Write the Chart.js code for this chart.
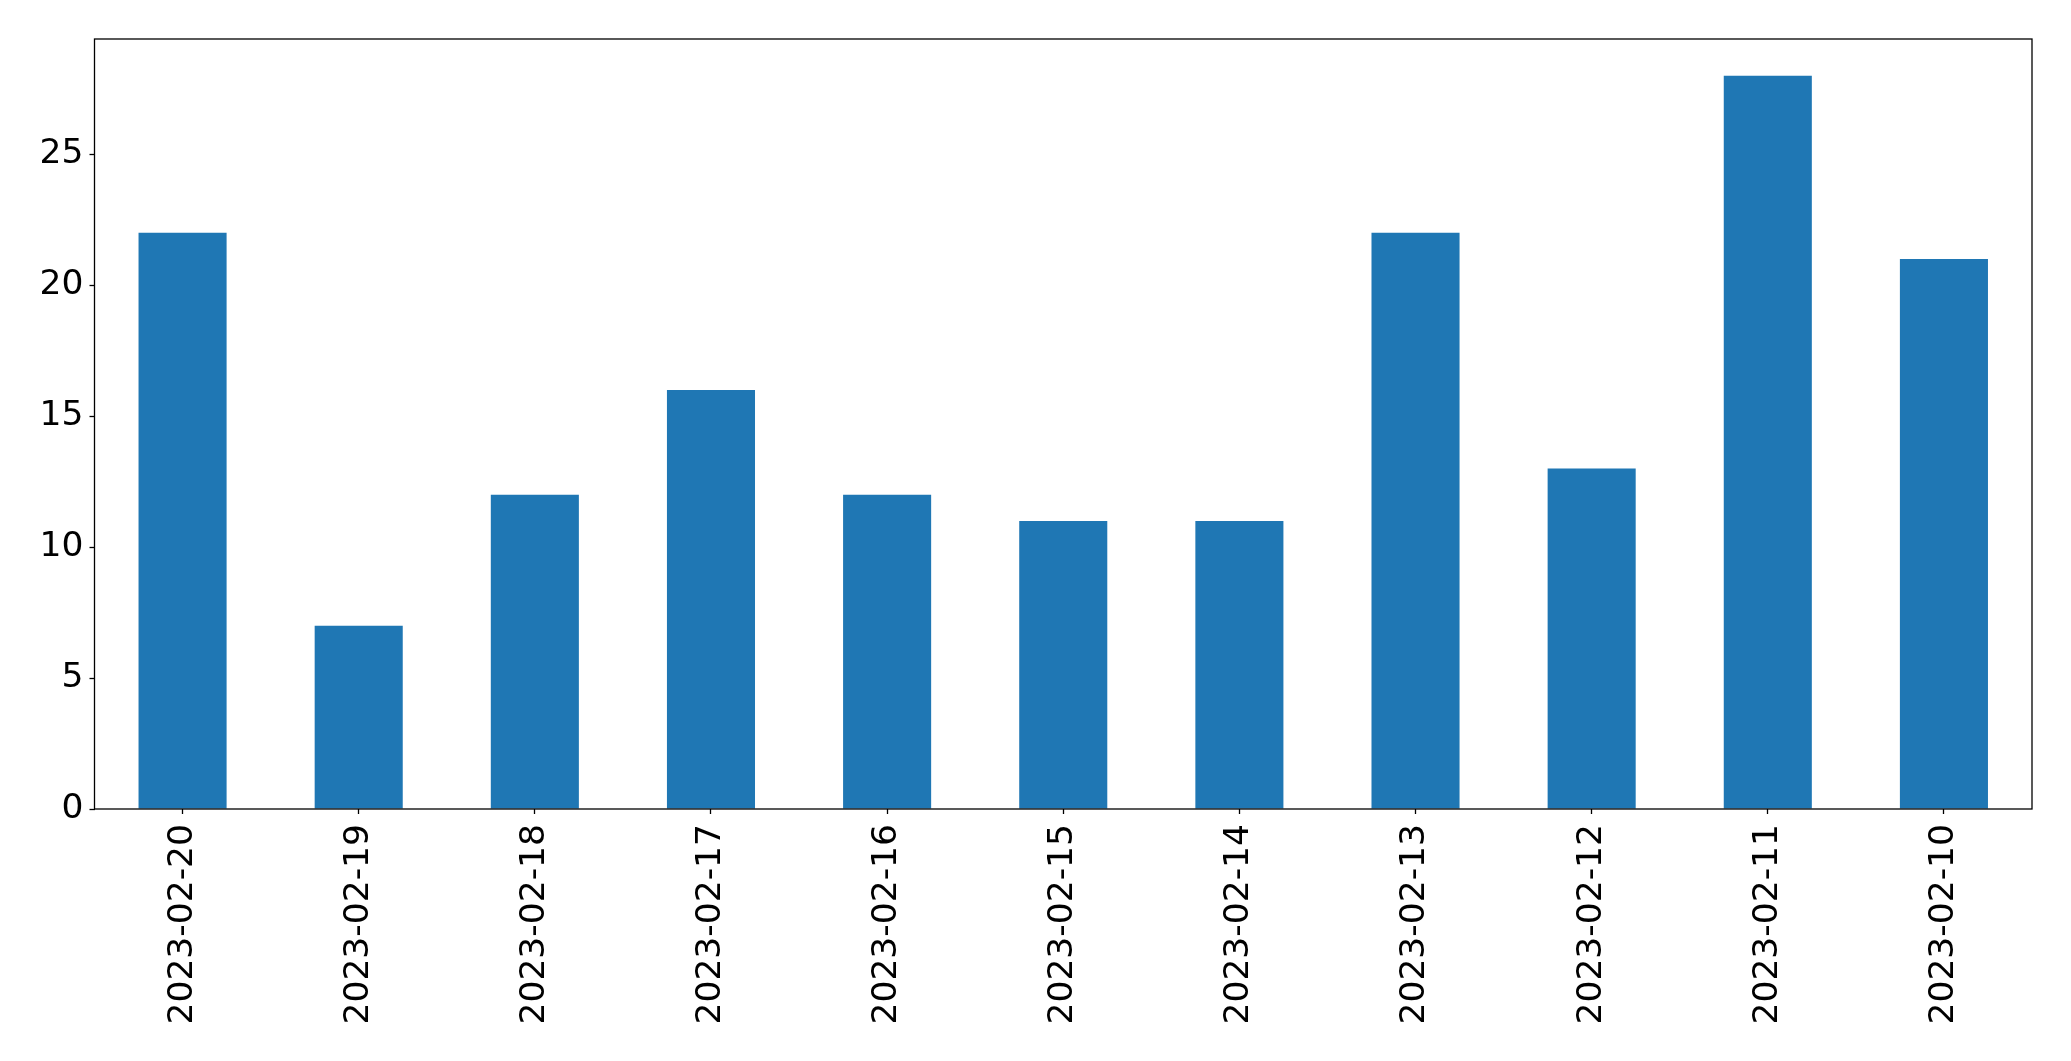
<!DOCTYPE html>
<html>
<head>
<meta charset="utf-8">
<script src="https://cdn.jsdelivr.net/npm/chart.js@4/dist/chart.umd.min.js"></script>
<style>
	body { margin: 0; background: #fff; }
	canvas { display: block; }
</style>
</head>
<body>
<canvas id="chart" width="2071" height="1061"></canvas>
<script>
// data
var categories	=	["2023-02-20", "2023-02-19", "2023-02-18", "2023-02-17", "2023-02-16", "2023-02-15", "2023-02-14", "2023-02-13", "2023-02-12", "2023-02-11", "2023-02-10"];
var values		=	[22, 7, 12, 16, 12, 11, 11, 22, 13, 28, 21];
var yTicks		=	[0, 5, 10, 15, 20, 25];

/**
 * Draws the full box round the plot area
 */
var frame = {
	id: "frame",
	afterDraw: function (chart) {
		var a = chart.chartArea;
		var ctx = chart.ctx;
		ctx.save();
		ctx.strokeStyle = "#000";
		ctx.lineWidth = 1.3;
		ctx.strokeRect(a.left, a.top, a.right - a.left, a.bottom - a.top);
		ctx.restore();
	}
};

Chart.defaults.font.family = "'DejaVu Sans', sans-serif";
Chart.defaults.color = "#000";

new Chart(document.getElementById("chart"), {
	type: "bar",
	data: {
		labels: categories,
		datasets: [{
			data: values,
			backgroundColor: "#1f77b4",
			categoryPercentage: 1,
			barPercentage: 0.5
		}]
	},
	options: {
		responsive: false,
		animation: false,
		layout: { padding: { left: 0, top: 39, right: 39, bottom: 0 } },
		plugins: { legend: { display: false }, tooltip: { enabled: false } },
		scales: {
			x: {
				offset: true,
				grid: { offset: false, drawOnChartArea: false, tickLength: 5, color: "#000", tickWidth: 1.3 },
				border: { display: false },
				ticks: { minRotation: 90, maxRotation: 90, padding: 10, font: { size: 34.5 }, autoSkip: false },
				afterFit: function (axis) { axis.height = 252; }
			},
			y: {
				min: 0,
				max: 29.4,
				grid: { drawOnChartArea: false, tickLength: 5, color: "#000", tickWidth: 1.3 },
				border: { display: false },
				ticks: { stepSize: 5, padding: 6, font: { size: 34.5 } },
				afterBuildTicks: function (axis) {
					axis.ticks = yTicks.map(function (v) { return { value: v }; });
				},
				afterFit: function (axis) { axis.width = 94.5; }
			}
		}
	},
	plugins: [frame]
});
</script>
</body>
</html>
